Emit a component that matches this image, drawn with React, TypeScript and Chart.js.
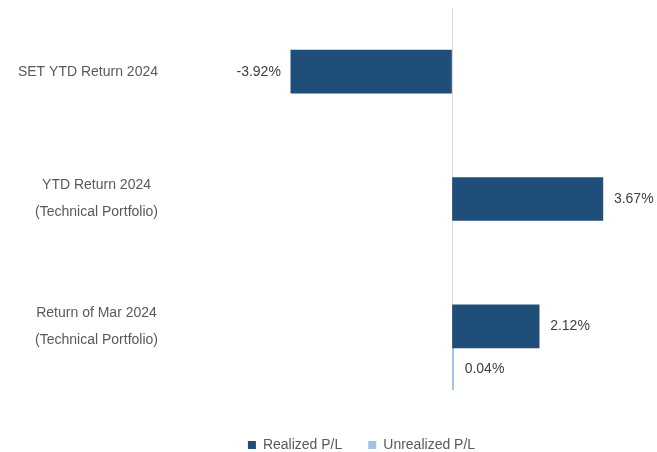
import React, { useEffect, useRef } from "react";
import { Chart, registerables } from "chart.js";

Chart.register(...registerables);

// ---- data ----
const categories: string[][] = [
  ["SET YTD Return 2024"],
  ["YTD Return 2024", "(Technical Portfolio)"],
  ["Return of Mar 2024", "(Technical Portfolio)"],
];
const seriesNames = ["Realized P/L", "Unrealized P/L"];
const realizedPL: (number | null)[] = [-3.92, 3.67, 2.12];
const unrealizedPL: (number | null)[] = [null, null, 0.04];
// empty slot that keeps the realized bar centred in the last group
const groupSpacer: (number | null)[] = [null, null, 0];
const xMin = -4.5;
const xMax = 4.5;

// ---- style ----
const FONT = "'Liberation Sans', Arial, sans-serif";
const DARK = "#1F4E79";
const LIGHT = "#9DC3E6";
const LABEL_GRAY = "#595959";
const VALUE_GRAY = "#404040";

const categoryLabelPlugin = {
  id: "categoryLabels",
  afterDraw(chart: any) {
    const ctx = chart.ctx;
    const yScale = chart.scales.y;
    ctx.save();
    ctx.font = `14px ${FONT}`;
    ctx.fillStyle = LABEL_GRAY;
    ctx.textBaseline = "middle";
    ctx.textAlign = "center";
    const right = 158;
    const lineH = 27;
    categories.forEach((lines, i) => {
      const cy = yScale.getPixelForValue(i);
      const maxW = Math.max(...lines.map((l) => ctx.measureText(l).width));
      const cx = right - maxW / 2;
      lines.forEach((l, j) => {
        ctx.fillText(l, cx, cy + (j - (lines.length - 1) / 2) * lineH);
      });
    });
    ctx.restore();
  },
};

const valueLabelPlugin = {
  id: "valueLabels",
  afterDatasetsDraw(chart: any) {
    const ctx = chart.ctx;
    ctx.save();
    ctx.font = `14px ${FONT}`;
    ctx.fillStyle = VALUE_GRAY;
    ctx.textBaseline = "middle";
    chart.data.datasets.forEach((ds: any, di: number) => {
      if (!ds.label) return;
      const meta = chart.getDatasetMeta(di);
      meta.data.forEach((bar: any, i: number) => {
        const v = ds.data[i];
        if (v === null || v === undefined) return;
        const { x, y } = bar.getProps(["x", "y"], true);
        const neg = v < 0;
        ctx.textAlign = neg ? "right" : "left";
        ctx.fillText(v.toFixed(2) + "%", neg ? x - 10 : x + 11, y);
      });
    });
    ctx.restore();
  },
};

export default function App() {
  const ref = useRef<HTMLCanvasElement | null>(null);

  useEffect(() => {
    if (!ref.current) return;
    const chart = new Chart(ref.current, {
      type: "bar",
      data: {
        labels: categories,
        datasets: [
          {
            label: "",
            data: groupSpacer,
            backgroundColor: "rgba(0,0,0,0)",
            borderWidth: 0,
          },
          {
            label: seriesNames[0],
            data: realizedPL,
            backgroundColor: DARK,
            borderWidth: 0,
          },
          {
            label: seriesNames[1],
            data: unrealizedPL,
            backgroundColor: LIGHT,
            borderWidth: 0,
          },
        ],
      } as any,
      options: {
        indexAxis: "y",
        responsive: false,
        animation: false,
        skipNull: true,
        barThickness: 43,
        layout: { padding: { top: 8, right: 20, left: 86, bottom: 0 } },
        scales: {
          x: {
            min: xMin,
            max: xMax,
            ticks: { display: false, stepSize: 0.5 },
            border: { display: false },
            grid: {
              drawTicks: false,
              color: (c: any) => (c.tick && c.tick.value === 0 ? "#D9D9D9" : "rgba(0,0,0,0)"),
              lineWidth: 1,
            },
            afterFit: (s: any) => {
              s.height = 22;
            },
          },
          y: {
            ticks: { display: false },
            grid: { display: false, drawTicks: false },
            border: { display: false },
            afterFit: (s: any) => {
              s.width = 181;
            },
          },
        },
        plugins: {
          tooltip: { enabled: false },
          legend: {
            position: "bottom",
            maxHeight: 40,
            labels: {
              boxWidth: 8,
              boxHeight: 8,
              padding: 26,
              color: LABEL_GRAY,
              font: { size: 14, family: FONT },
              filter: (item: any) => item.text !== "",
            },
          },
        },
      } as any,
      plugins: [categoryLabelPlugin, valueLabelPlugin],
    });
    return () => chart.destroy();
  }, []);

  return (
    <div style={{ position: "fixed", left: 0, top: 0, width: 657, height: 452, background: "#fff" }}>
      <canvas ref={ref} width={657} height={452} />
    </div>
  );
}
